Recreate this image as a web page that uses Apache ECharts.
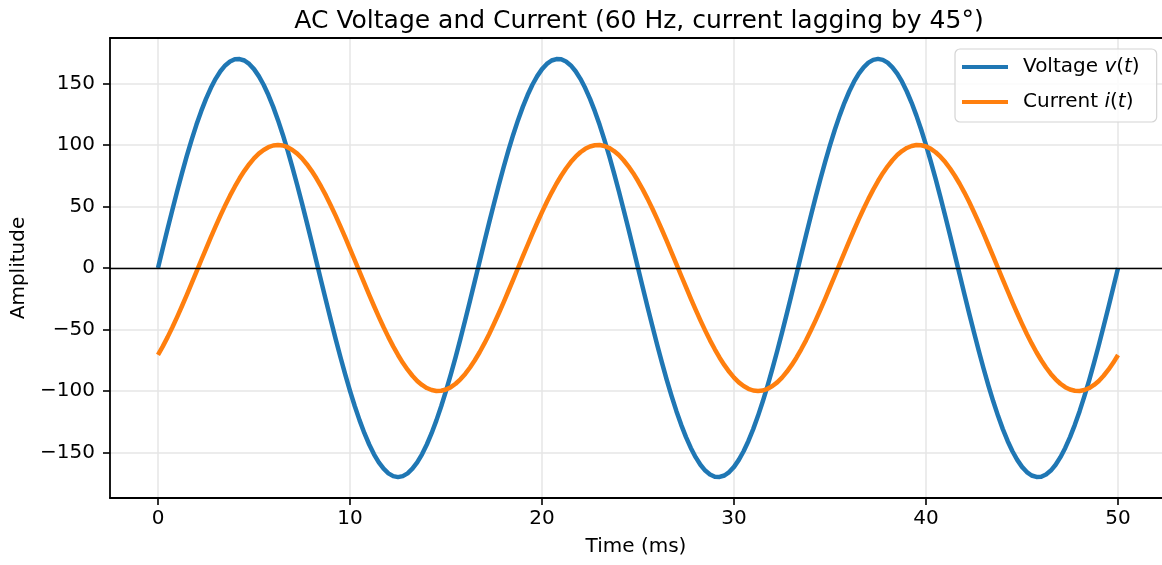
<!DOCTYPE html>
<html>
<head>
<meta charset="utf-8">
<script src="https://cdn.jsdelivr.net/npm/echarts@6/dist/echarts.min.js"></script>
<style>
  html, body { margin: 0; padding: 0; background: #fff; }
  #chart { width: 1162px; height: 565px; }
</style>
</head>
<body>
<div id="chart"></div>
<script>
// ---- Data ----
const TITLE = 'AC Voltage and Current (60 Hz, current lagging by 45°)';
const X_NAME = 'Time (ms)';
const Y_NAME = 'Amplitude';
const X_TICKS = [0, 10, 20, 30, 40, 50];
const Y_TICKS = [-150, -100, -50, 0, 50, 100, 150];

const TIME_MS = [
  0, 0.25, 0.5, 0.75, 1, 1.25, 1.5, 1.75, 2, 2.25, 2.5, 2.75, 3, 3.25, 3.5, 3.75, 4, 4.25, 4.5, 4.75,
  5, 5.25, 5.5, 5.75, 6, 6.25, 6.5, 6.75, 7, 7.25, 7.5, 7.75, 8, 8.25, 8.5, 8.75, 9, 9.25, 9.5, 9.75,
  10, 10.25, 10.5, 10.75, 11, 11.25, 11.5, 11.75, 12, 12.25, 12.5, 12.75, 13, 13.25, 13.5, 13.75, 14, 14.25, 14.5, 14.75,
  15, 15.25, 15.5, 15.75, 16, 16.25, 16.5, 16.75, 17, 17.25, 17.5, 17.75, 18, 18.25, 18.5, 18.75, 19, 19.25, 19.5, 19.75,
  20, 20.25, 20.5, 20.75, 21, 21.25, 21.5, 21.75, 22, 22.25, 22.5, 22.75, 23, 23.25, 23.5, 23.75, 24, 24.25, 24.5, 24.75,
  25, 25.25, 25.5, 25.75, 26, 26.25, 26.5, 26.75, 27, 27.25, 27.5, 27.75, 28, 28.25, 28.5, 28.75, 29, 29.25, 29.5, 29.75,
  30, 30.25, 30.5, 30.75, 31, 31.25, 31.5, 31.75, 32, 32.25, 32.5, 32.75, 33, 33.25, 33.5, 33.75, 34, 34.25, 34.5, 34.75,
  35, 35.25, 35.5, 35.75, 36, 36.25, 36.5, 36.75, 37, 37.25, 37.5, 37.75, 38, 38.25, 38.5, 38.75, 39, 39.25, 39.5, 39.75,
  40, 40.25, 40.5, 40.75, 41, 41.25, 41.5, 41.75, 42, 42.25, 42.5, 42.75, 43, 43.25, 43.5, 43.75, 44, 44.25, 44.5, 44.75,
  45, 45.25, 45.5, 45.75, 46, 46.25, 46.5, 46.75, 47, 47.25, 47.5, 47.75, 48, 48.25, 48.5, 48.75, 49, 49.25, 49.5, 49.75,
  50
];

const VOLTAGE = [
  0, 16.0, 31.9, 47.4, 62.6, 77.2, 91.1, 104.2, 116.4, 127.5,
  137.5, 146.3, 153.8, 160.0, 164.7, 167.9, 169.7, 169.9, 168.7, 165.9,
  161.7, 156.0, 149.0, 140.6, 131.0, 120.2, 108.4, 95.6, 81.9, 67.5,
  52.5, 37.1, 21.3, 5.3, -10.7, -26.6, -42.3, -57.6, -72.4, -86.5,
  -99.9, -112.4, -123.9, -134.3, -143.5, -151.5, -158.1, -163.2, -167.0, -169.2,
  -170.0, -169.2, -167.0, -163.2, -158.1, -151.5, -143.5, -134.3, -123.9, -112.4,
  -99.9, -86.5, -72.4, -57.6, -42.3, -26.6, -10.7, 5.3, 21.3, 37.1,
  52.5, 67.5, 81.9, 95.6, 108.4, 120.2, 131.0, 140.6, 149.0, 156.0,
  161.7, 165.9, 168.7, 169.9, 169.7, 167.9, 164.7, 160.0, 153.8, 146.3,
  137.5, 127.5, 116.4, 104.2, 91.1, 77.2, 62.6, 47.4, 31.9, 16.0,
  0, -16.0, -31.9, -47.4, -62.6, -77.2, -91.1, -104.2, -116.4, -127.5,
  -137.5, -146.3, -153.8, -160.0, -164.7, -167.9, -169.7, -169.9, -168.7, -165.9,
  -161.7, -156.0, -149.0, -140.6, -131.0, -120.2, -108.4, -95.6, -81.9, -67.5,
  -52.5, -37.1, -21.3, -5.3, 10.7, 26.6, 42.3, 57.6, 72.4, 86.5,
  99.9, 112.4, 123.9, 134.3, 143.5, 151.5, 158.1, 163.2, 167.0, 169.2,
  170.0, 169.2, 167.0, 163.2, 158.1, 151.5, 143.5, 134.3, 123.9, 112.4,
  99.9, 86.5, 72.4, 57.6, 42.3, 26.6, 10.7, -5.3, -21.3, -37.1,
  -52.5, -67.5, -81.9, -95.6, -108.4, -120.2, -131.0, -140.6, -149.0, -156.0,
  -161.7, -165.9, -168.7, -169.9, -169.7, -167.9, -164.7, -160.0, -153.8, -146.3,
  -137.5, -127.5, -116.4, -104.2, -91.1, -77.2, -62.6, -47.4, -31.9, -16.0,
  0
];

const CURRENT = [
  -70.7, -63.7, -56.2, -48.2, -39.7, -30.9, -21.8, -12.5, -3.1, 6.3,
  15.6, 24.9, 33.9, 42.6, 50.9, 58.8, 66.1, 72.9, 79.0, 84.4,
  89.1, 93.0, 96.0, 98.2, 99.6, 100.0, 99.6, 98.2, 96.0, 93.0,
  89.1, 84.4, 79.0, 72.9, 66.1, 58.8, 50.9, 42.6, 33.9, 24.9,
  15.6, 6.3, -3.1, -12.5, -21.8, -30.9, -39.7, -48.2, -56.2, -63.7,
  -70.7, -77.1, -82.7, -87.6, -91.8, -95.1, -97.6, -99.2, -99.95, -99.8,
  -98.8, -96.9, -94.1, -90.5, -86.1, -80.9, -75.0, -68.5, -61.3, -53.6,
  -45.4, -36.8, -27.9, -18.7, -9.4, 0, 9.4, 18.7, 27.9, 36.8,
  45.4, 53.6, 61.3, 68.5, 75.0, 80.9, 86.1, 90.5, 94.1, 96.9,
  98.8, 99.8, 99.95, 99.2, 97.6, 95.1, 91.8, 87.6, 82.7, 77.1,
  70.7, 63.7, 56.2, 48.2, 39.7, 30.9, 21.8, 12.5, 3.1, -6.3,
  -15.6, -24.9, -33.9, -42.6, -50.9, -58.8, -66.1, -72.9, -79.0, -84.4,
  -89.1, -93.0, -96.0, -98.2, -99.6, -100.0, -99.6, -98.2, -96.0, -93.0,
  -89.1, -84.4, -79.0, -72.9, -66.1, -58.8, -50.9, -42.6, -33.9, -24.9,
  -15.6, -6.3, 3.1, 12.5, 21.8, 30.9, 39.7, 48.2, 56.2, 63.7,
  70.7, 77.1, 82.7, 87.6, 91.8, 95.1, 97.6, 99.2, 99.95, 99.8,
  98.8, 96.9, 94.1, 90.5, 86.1, 80.9, 75.0, 68.5, 61.3, 53.6,
  45.4, 36.8, 27.9, 18.7, 9.4, 0, -9.4, -18.7, -27.9, -36.8,
  -45.4, -53.6, -61.3, -68.5, -75.0, -80.9, -86.1, -90.5, -94.1, -96.9,
  -98.8, -99.8, -99.95, -99.2, -97.6, -95.1, -91.8, -87.6, -82.7, -77.1,
  -70.7
];

// ---- Chart ----
const FONT = 'DejaVu Sans';
const fmtNum = v => (v < 0 ? '\u2212' + Math.abs(v) : String(v));
const pairs = (xs, ys) => xs.map((x, i) => [x, ys[i]]);

const chart = echarts.init(document.getElementById('chart'), null, { renderer: 'canvas' });

const legendRich = {
  n: { fontFamily: FONT, fontSize: 20, color: '#000' },
  i: { fontFamily: FONT, fontSize: 20, color: '#000', fontStyle: 'italic' }
};

chart.setOption({
  animation: false,
  backgroundColor: '#fff',
  textStyle: { fontFamily: FONT },
  title: {
    text: TITLE,
    left: 634, top: 4,
    textAlign: 'center',
    textStyle: { fontFamily: FONT, fontSize: 25, fontWeight: 'normal', color: '#000' }
  },
  legend: {
    orient: 'vertical',
    left: 955, top: 49,
    padding: [7, 17, 9, 7],
    itemGap: 13,
    icon: 'rect',
    itemWidth: 46, itemHeight: 4,
    backgroundColor: 'rgba(255,255,255,0.85)',
    borderColor: '#d4d4d4', borderWidth: 1.2, borderRadius: 5,
    data: ['Voltage', 'Current'],
    formatter: name => name === 'Voltage'
      ? '{n|Voltage }{i|v}{n|(}{i|t}{n|)}'
      : '{n|Current }{i|i}{n|(}{i|t}{n|)}',
    textStyle: { fontFamily: FONT, fontSize: 20, lineHeight: 22, color: '#000', padding: [0, 0, 0, 10], rich: legendRich }
  },
  grid: { left: 110, right: 0, top: 38, bottom: 67, containLabel: false },
  xAxis: [{
    type: 'value',
    min: -2.5, max: 52.29,
    name: X_NAME,
    nameLocation: 'middle',
    nameGap: 39,
    nameTextStyle: { fontFamily: FONT, fontSize: 20, color: '#000' },
    axisLine: { show: true, onZero: false, lineStyle: { color: '#000', width: 1.8 } },
    axisTick: { show: true, customValues: X_TICKS, length: 7, lineStyle: { color: '#000', width: 1.6 } },
    axisLabel: { customValues: X_TICKS, margin: 11, fontFamily: FONT, fontSize: 20, color: '#000', formatter: fmtNum },
    splitLine: { show: true, lineStyle: { color: '#e6e6e6', width: 1.5 } }
  }, {
    type: 'value',
    position: 'top',
    min: -2.5, max: 52.29,
    axisLine: { show: true, onZero: false, lineStyle: { color: '#000', width: 1.8 } },
    axisTick: { show: false },
    axisLabel: { show: false },
    splitLine: { show: false }
  }],
  yAxis: {
    type: 'value',
    min: -187, max: 187,
    name: Y_NAME,
    nameLocation: 'middle',
    nameGap: 80,
    nameTextStyle: { fontFamily: FONT, fontSize: 20, color: '#000' },
    axisLine: { show: true, onZero: false, lineStyle: { color: '#000', width: 1.8 } },
    axisTick: { show: true, customValues: Y_TICKS, length: 7, lineStyle: { color: '#000', width: 1.6 } },
    axisLabel: { customValues: Y_TICKS, margin: 15, fontFamily: FONT, fontSize: 20, color: '#000', formatter: fmtNum },
    splitLine: { show: true, lineStyle: { color: '#e6e6e6', width: 1.5 } }
  },
  series: [{
    name: 'Voltage',
    type: 'line',
    data: pairs(TIME_MS, VOLTAGE),
    showSymbol: false, symbol: 'none',
    smooth: false,
    lineStyle: { color: '#1f77b4', width: 4.5, join: 'round', cap: 'butt' },
    itemStyle: { color: '#1f77b4' },
    z: 3
  }, {
    name: 'Current',
    type: 'line',
    data: pairs(TIME_MS, CURRENT),
    showSymbol: false, symbol: 'none',
    smooth: false,
    lineStyle: { color: '#ff7f0e', width: 4.5, join: 'round', cap: 'butt' },
    itemStyle: { color: '#ff7f0e' },
    z: 4,
    markLine: {
      silent: true, symbol: 'none', label: { show: false },
      lineStyle: { color: '#000', width: 1.3, type: 'solid' },
      data: [{ yAxis: 0 }],
      z: 6
    }
  }]
});
</script>
</body>
</html>
